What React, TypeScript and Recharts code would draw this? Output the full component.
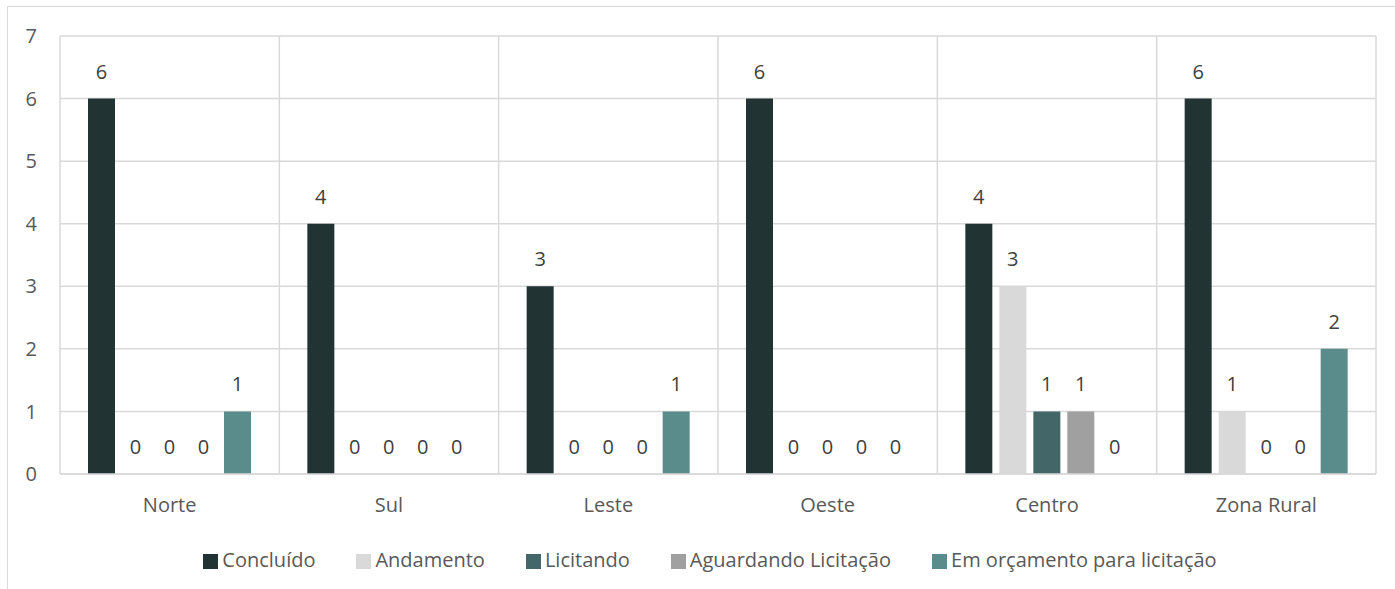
import { Bar, BarChart, CartesianGrid, LabelList, Legend, XAxis, YAxis } from "recharts";

const regions = ["Norte", "Sul", "Leste", "Oeste", "Centro", "Zona Rural"];
const concluido = [6, 4, 3, 6, 4, 6];
const andamento = [0, 0, 0, 0, 3, 1];
const licitando = [0, 0, 0, 0, 1, 0];
const aguardando = [0, 0, 0, 0, 1, 0];
const orcamento = [1, 0, 1, 0, 0, 2];
const yTicks = [0, 1, 2, 3, 4, 5, 6, 7];

const SERIES = [
  { key: "concluido", name: "Concluído", color: "#223333" },
  { key: "andamento", name: "Andamento", color: "#d9d9d9" },
  { key: "licitando", name: "Licitando", color: "#436769" },
  { key: "aguardando", name: "Aguardando Licitação", color: "#a0a0a0" },
  { key: "orcamento", name: "Em orçamento para licitação", color: "#5b8c8c" },
];

const data = regions.map((r, i) => ({
  region: r,
  concluido: concluido[i],
  andamento: andamento[i],
  licitando: licitando[i],
  aguardando: aguardando[i],
  orcamento: orcamento[i],
}));

const FONT = "'Open Sans', sans-serif";
const GRID = "#d9d9d9";
const LAST = SERIES[SERIES.length - 1].name;

export default function App() {
  return (
    <div style={{ position: "fixed", inset: 0, overflow: "hidden", background: "#fff", fontFamily: FONT }}>
      <div
        style={{
          position: "absolute", left: 7, top: 6, width: 1500, height: 700,
          borderTop: `1.5px solid ${GRID}`, borderLeft: `1.5px solid ${GRID}`,
        }}
      />
      <div style={{ position: "absolute", left: 0, top: 0 }}>
        <BarChart width={1395} height={589} data={data}
          margin={{ top: 36, right: 19, left: 0, bottom: 15 }}
          barSize={27} barGap={7}>
          <CartesianGrid stroke={GRID} strokeWidth={1.5}
            verticalCoordinatesGenerator={({ offset }: any) =>
              regions.map((_, i) => offset.left + (i * offset.width) / regions.length).concat(offset.left + offset.width)} />
          <XAxis dataKey="region" height={72} tickLine={false} axisLine={{ stroke: GRID, strokeWidth: 1.5 }}
            tick={{ fill: "#595959", fontSize: 20, fontFamily: FONT }} tickMargin={18} />
          <YAxis width={60} domain={[0, 7]} ticks={yTicks} tickLine={false} axisLine={false}
            tick={{ fill: "#595959", fontSize: 20, fontFamily: FONT }} tickMargin={17} />
          <Legend verticalAlign="bottom" iconType="square" iconSize={15}
            itemSorter={(item: any) => SERIES.findIndex((s) => s.name === item.value)}
            wrapperStyle={{ fontSize: 20, fontFamily: FONT, height: 28, lineHeight: "28px", left: 27 }}
            formatter={(v: string) => (
              <span style={{ color: "#595959", marginRight: v === LAST ? 0 : 31, whiteSpace: "nowrap" }}>{v}</span>
            )} />
          {SERIES.map((s) => (
            <Bar key={s.key} dataKey={s.key} name={s.name} fill={s.color} minPointSize={0.01} isAnimationActive={false}>
              <LabelList dataKey={s.key} position="top" offset={20} fill="#404040" fontSize={20} fontFamily={FONT} />
            </Bar>
          ))}
        </BarChart>
      </div>
    </div>
  );
}
